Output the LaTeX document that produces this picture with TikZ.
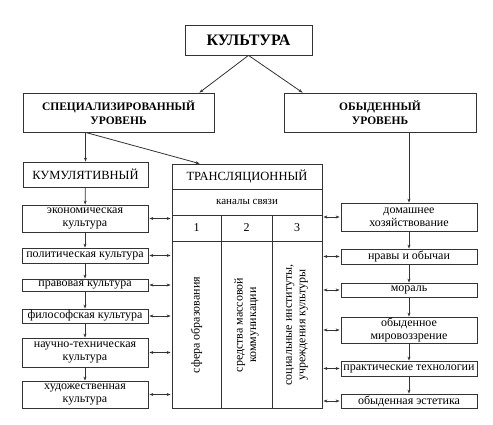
\documentclass[tikz,border=0pt]{standalone}
\usepackage{fontspec}
\setmainfont{Liberation Serif}
\usetikzlibrary{arrows.meta}
\tikzset{scheme/.style={x=1pt,y=-1pt,line width=0.8pt,draw=black!80,
    >={Stealth[length=4pt,width=3pt]}},
  cell/.style={draw=black!80,line width=0.8pt,inner sep=0pt,align=center,
    font=\fontsize{12}{13}\selectfont},
  big/.style={cell,font=\fontsize{12.5}{14}\selectfont},
  link/.style={<->,shorten <=1pt,shorten >=1pt}}

\begin{document}
\begin{tikzpicture}[scheme]
    \useasboundingbox (0,0) rectangle (493,424);
    % upper levels
    \node[cell,minimum width=127,minimum height=30,font=\fontsize{16}{18}\selectfont\bfseries] (kult) at (248.5,40) {КУЛЬТУРА};
    \node[big,minimum width=191,minimum height=39,font=\fontsize{11.5}{14}\selectfont\bfseries] (spec) at (118.5,112.5) {СПЕЦИАЛИЗИРОВАННЫЙ\\УРОВЕНЬ};
    \node[big,minimum width=192,minimum height=39,font=\fontsize{11.5}{14}\selectfont\bfseries] (obyd) at (380,112.5) {ОБЫДЕННЫЙ\\УРОВЕНЬ};
    \draw[->] (kult.south) -- ([xshift=-15pt]spec.north east);
    \draw[->] (kult.south) -- ([xshift=19pt]obyd.north west);
    % cumulative column
    \node[big,minimum width=125,minimum height=25] (kum) at (85.5,174.5) {КУМУЛЯТИВНЫЙ};
    \foreach \n/\ya/\yb/\t in {1/205/232/{экономическая\\культура},
        2/248/263/{политическая культура},3/279/291/{правовая культура},
        4/309/323/{философская культура},5/338/367/{научно-техническая\\культура},
        6/381/408/{художественная\\культура}}
      \node[cell,minimum width=126,minimum height={\yb-\ya}] (l\n) at (85,{(\ya+\yb)/2}) {\t};
    \draw[->] (kum.north |- spec.south) -- (kum.north);
    \draw[->] (kum) -- (l1);
    \foreach \a/\b in {1/2,2/3,3/4,4/5,5/6} \draw[->] (l\a) -- (l\b);
    % translation table
    \node[draw=black!80,minimum width=150,minimum height=244,inner sep=0pt] (trans) at (247,286) {};
    \coordinate (r1) at (172,189); \coordinate (r2) at (172,215); \coordinate (r3) at (172,241);
    \coordinate (c1) at (221,215); \coordinate (c2) at (272,215);
    \foreach \r in {r1,r2,r3} \draw (\r) -- (\r -| trans.east);
    \foreach \c in {c1,c2} \draw (\c) -- (\c |- trans.south);
    \node[font=\fontsize{12.5}{14}\selectfont] (trhead) at (247,176.5) {ТРАНСЛЯЦИОННЫЙ};
    \node[font=\fontsize{11}{12}\selectfont] (kanaly) at (247,202) {каналы связи};
    \node[font=\fontsize{12}{13}\selectfont] (n1) at (196.5,228) {1};
    \node[font=\fontsize{12}{13}\selectfont] (n2) at (246.5,228) {2};
    \node[font=\fontsize{12}{13}\selectfont] (n3) at (297,228) {3};
    \node[rotate=90,align=center,font=\fontsize{12}{13.5}\selectfont] (ch1) at (196.5,325) {сфера образования};
    \node[rotate=90,align=center,font=\fontsize{12}{13.5}\selectfont] (ch2) at (246.5,325) {средства массовой\\коммуникации};
    \node[rotate=90,align=center,font=\fontsize{12}{13.5}\selectfont] (ch3) at (297,325) {социальные институты,\\учреждения культуры};
    \draw[->] (kum.north |- spec.south) -- ([xshift=28pt]trans.north west);
    \foreach \n in {1,...,6} \draw[link] (l\n.east) -- (l\n.east -| trans.west);
    % everyday column
    \foreach \n/\ya/\yb/\t in {1/203/231/{домашнее\\хозяйствование},
        2/249/264/{нравы и обычаи},3/283/297/{мораль},
        4/317/343/{обыденное\\мировоззрение},5/361/376/{практические технологии},
        6/394/408/{обыденная эстетика}}
      \node[cell,minimum width=136,minimum height={\yb-\ya}] (e\n) at (409,{(\ya+\yb)/2}) {\t};
    \draw[->] (e1.north |- obyd.south) -- (e1.north);
    \foreach \a/\b in {1/2,2/3,3/4,4/5,5/6} \draw[->] (e\a) -- (e\b);
    \foreach \n in {1,...,6} \draw[link] (e\n.west -| trans.east) -- (e\n.west);
\end{tikzpicture}
\end{document}
